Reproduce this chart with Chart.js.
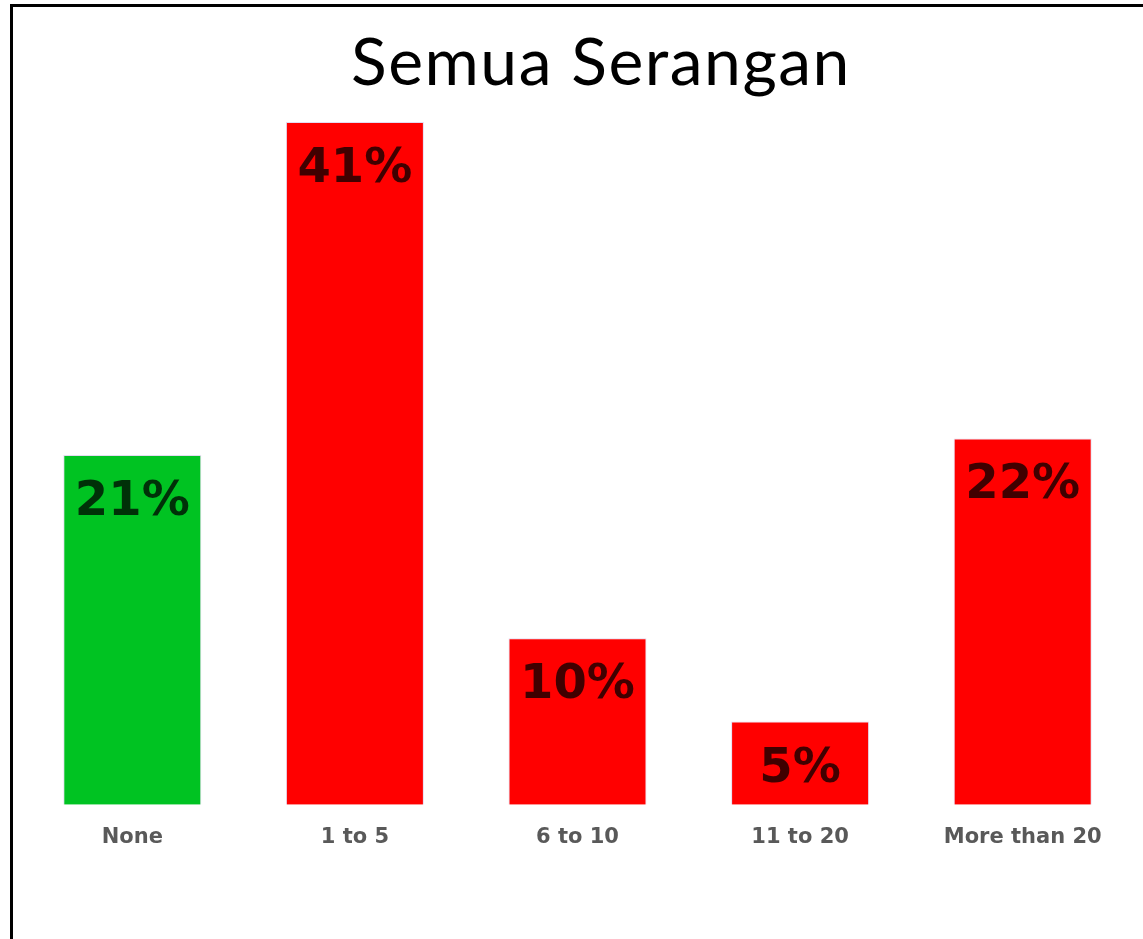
<!DOCTYPE html>
<html>
<head>
<meta charset="utf-8">
<script src="https://cdn.jsdelivr.net/npm/chart.js@4.4.1/dist/chart.umd.min.js"></script>
<style>
  html, body { margin: 0; padding: 0; background: #ffffff; width: 1143px; height: 939px; overflow: hidden; }
  #frame { position: absolute; left: 10px; top: 4px; width: 1200px; height: 1000px;
           border-left: 3px solid #000; border-top: 3px solid #000; box-sizing: border-box; }
  #wrap { position: absolute; left: 0; top: 0; width: 1143px; height: 939px; }
</style>
</head>
<body>
<div id="frame"></div>
<div id="wrap"><canvas id="c" width="1143" height="939"></canvas></div>
<script>
const titleText = "Semua Serangan";
const categories = ["None", "1 to 5", "6 to 10", "11 to 20", "More than 20"];
const values = [21, 41, 10, 5, 22];
const barColors = ["#00c322", "#ff0000", "#ff0000", "#ff0000", "#ff0000"];

const titlePlugin = {
  id: 'customTitle',
  afterDraw(chart) {
    const ctx = chart.ctx;
    ctx.save();
    ctx.font = '66px Lato';
    ctx.fillStyle = '#000';
    ctx.textAlign = 'center';
    ctx.textBaseline = 'alphabetic';
    if ('letterSpacing' in ctx) ctx.letterSpacing = '1.5px';
    ctx.fillText(titleText, 601, 85);
    ctx.restore();
  }
};

const insideLabels = {
  id: 'insideLabels',
  afterDatasetsDraw(chart) {
    const ctx = chart.ctx;
    const meta = chart.getDatasetMeta(0);
    ctx.save();
    ctx.font = 'bold 48px "DejaVu Sans"';
    ctx.fillStyle = 'rgba(0,0,0,0.75)';
    ctx.textAlign = 'center';
    ctx.textBaseline = 'alphabetic';
    meta.data.forEach((bar, i) => {
      ctx.fillText(values[i] + '%', bar.x, bar.y + 60);
    });
    ctx.restore();
  }
};

new Chart(document.getElementById('c'), {
  type: 'bar',
  data: {
    labels: categories,
    datasets: [{
      data: values,
      backgroundColor: barColors,
      borderColor: 'rgba(225,215,240,0.9)',
      borderWidth: 1,
      categoryPercentage: 1.0,
      barPercentage: 0.62
    }]
  },
  options: {
    responsive: false,
    animation: false,
    layout: { padding: { top: 122, left: 21, right: 9, bottom: 77 } },
    plugins: {
      legend: { display: false },
      tooltip: { enabled: false },
      title: { display: false }
    },
    scales: {
      x: {
        grid: { display: false },
        border: { display: false },
        ticks: { color: '#595959', font: { family: '"DejaVu Sans"', size: 21, weight: 'bold' }, padding: 12 }
      },
      y: {
        display: false,
        min: 0,
        max: 41
      }
    }
  },
  plugins: [insideLabels, titlePlugin]
});
</script>
</body>
</html>
